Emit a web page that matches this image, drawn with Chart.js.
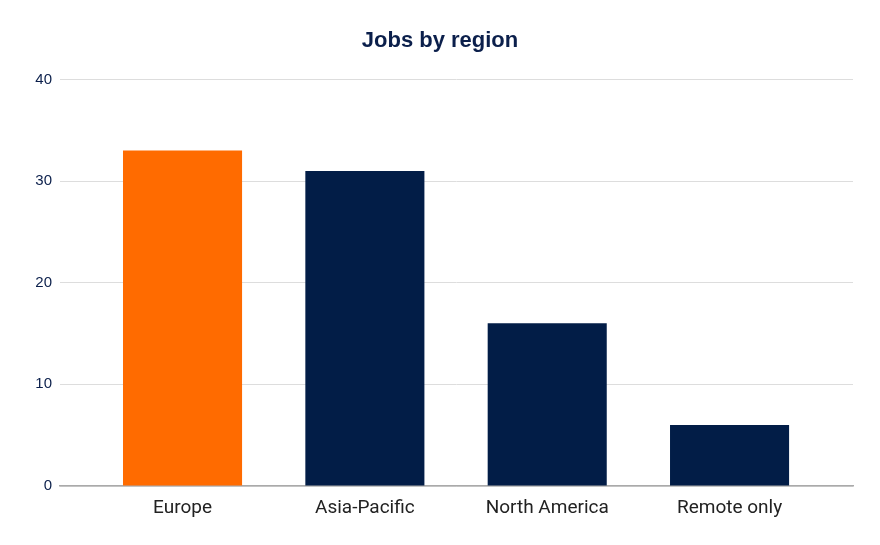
<!DOCTYPE html>
<html>
<head>
<meta charset="utf-8">
<script src="https://cdn.jsdelivr.net/npm/chart.js@4/dist/chart.umd.min.js"></script>
<style>
  html, body { margin: 0; padding: 0; background: #fff; }
  #wrap { width: 880px; height: 545px; }
</style>
</head>
<body>
<div id="wrap"><canvas id="chartJobs"></canvas></div>
<script>
const regions = ['Europe', 'Asia-Pacific', 'North America', 'Remote only'];
const jobs = [33, 31, 16, 6];
const yTicks = [0, 10, 20, 30, 40];

const navy = '#021d47';
const orange = '#ff6b00';

let points = jobs.map(function(v, i) { return { x: i, y: v }; });
let colors = regions.map(function(r, i) { return i === 0 ? orange : navy; });

var ctx = document.getElementById('chartJobs').getContext('2d');
var myChart = new Chart(ctx, {
  type: 'bar',
  data: {
    datasets: [{
      data: points,
      backgroundColor: colors,
      borderWidth: 0,
      barPercentage: 0.653,
      categoryPercentage: 1
    }]
  },
  options: {
    responsive: true,
    maintainAspectRatio: false,
    animation: false,
    layout: { padding: 0 },
    plugins: {
      legend: { display: false },
      tooltip: { enabled: false },
      title: {
        display: true,
        text: 'Jobs by region',
        color: '#0b1f4b',
        font: { family: 'Liberation Sans', size: 22, weight: 'bold' },
        padding: { top: 28, bottom: 25 }
      }
    },
    scales: {
      x: {
        type: 'linear',
        offset: false,
        min: -0.672,
        max: 3.677,
        afterBuildTicks: function(scale) {
          scale.ticks = regions.map(function(r, i) { return { value: i }; });
        },
        afterFit: function(scale) { scale.height = 59; },
        grid: { display: false },
        border: { display: true, color: '#aaaaaa', width: 1.5 },
        ticks: {
          autoSkip: false,
          maxRotation: 0,
          padding: 3,
          color: '#222222',
          font: { family: 'Roboto', size: 19 },
          callback: function(value) { return regions[value]; }
        }
      },
      y: {
        min: 0,
        max: 40,
        afterBuildTicks: function(scale) {
          scale.ticks = yTicks.map(function(v) { return { value: v }; });
        },
        afterFit: function(scale) { scale.width = 60; },
        border: { display: false },
        grid: { color: '#dddddd', drawTicks: false, lineWidth: 1 },
        ticks: {
          padding: 8,
          color: '#0b1f4b',
          font: { family: 'Liberation Sans', size: 15 }
        }
      },
      // empty right gutter so the title stays centred on the page
      yRight: {
        position: 'right',
        min: 0,
        max: 40,
        afterFit: function(scale) { scale.width = 27; },
        border: { display: false },
        grid: { display: false },
        ticks: { display: false }
      }
    }
  }
});
</script>
</body>
</html>
